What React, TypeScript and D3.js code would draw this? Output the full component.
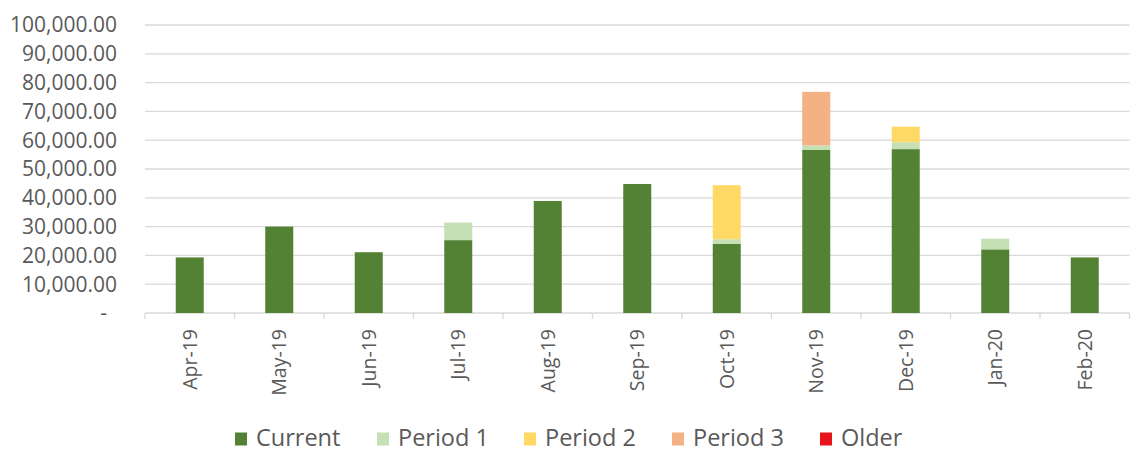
import React from "react";
import * as d3 from "d3";

const categories = ["Apr-19","May-19","Jun-19","Jul-19","Aug-19","Sep-19","Oct-19","Nov-19","Dec-19","Jan-20","Feb-20"];
const current = [19300, 30000, 21100, 25300, 38900, 44800, 24000, 56600, 56900, 22100, 19300];
const period1 = [0, 0, 0, 6100, 0, 0, 1600, 1600, 2400, 3700, 0];
const period2 = [0, 0, 0, 0, 0, 0, 18800, 0, 5400, 0, 0];
const period3 = [0, 0, 0, 0, 0, 0, 0, 18600, 0, 0, 0];
const older = [0, 0, 0, 0, 0, 0, 0, 0, 0, 0, 0];
const seriesNames = ["Current", "Period 1", "Period 2", "Period 3", "Older"];
const seriesColors = ["#548235", "#C5E0B4", "#FFD966", "#F4B183", "#E8141C"];
const yTicks = [0, 10000, 20000, 30000, 40000, 50000, 60000, 70000, 80000, 90000, 100000];

const W = 1141, H = 453;
const FONT = "'Open Sans', sans-serif";
const TEXT = "#595959";
const GRID = "#D9D9D9";

export default function App() {
  const seriesValues = [current, period1, period2, period3, older];
  const rows = categories.map((c, i) => {
    const r: any = { cat: c };
    seriesNames.forEach((s, k) => (r[s] = seriesValues[k][i]));
    return r;
  });
  const stacked = d3.stack().keys(seriesNames)(rows);

  const x = d3.scaleBand().domain(categories).range([145, 1129.5]).paddingInner(0.687).paddingOuter(0.3435);
  const y = d3.scaleLinear().domain([0, 100000]).range([313, 25]);
  const fmt = d3.format(",.2f");
  const step = x.step();

  const legendX = [235, 377, 524, 672, 820];

  return (
    <svg width={W} height={H} style={{ position: "absolute", left: 0, top: 0, background: "#fff" }} fontFamily={FONT}>
      {yTicks.filter((t) => t > 0).map((t) => (
        <line key={t} x1={145} x2={1129.5} y1={y(t)} y2={y(t)} stroke={GRID} strokeWidth={1.3} />
      ))}
      {yTicks.map((t) => (
        <text key={"l" + t} x={t === 0 ? 107 : 117} y={y(t)} dy="0.35em" textAnchor="end" fontSize={21} fill={TEXT}>
          {t === 0 ? "-" : fmt(t)}
        </text>
      ))}
      <line x1={145} x2={1129.5} y1={y(0)} y2={y(0)} stroke={GRID} strokeWidth={1.3} />
      {d3.range(categories.length + 1).map((i) => (
        <line key={"tk" + i} x1={145 + i * step} x2={145 + i * step} y1={y(0)} y2={y(0) + 6} stroke={GRID} strokeWidth={1.3} />
      ))}
      {stacked.map((s, k) => (
        <g key={s.key} fill={seriesColors[k]}>
          {s.map((d, i) => (d[1] - d[0] > 0 ? (
            <rect key={i} x={x(categories[i])} width={x.bandwidth()} y={y(d[1])} height={y(d[0]) - y(d[1])} />
          ) : null))}
        </g>
      ))}
      {categories.map((c) => {
        const cx = (x(c) as number) + x.bandwidth() / 2;
        return (
          <text key={"x" + c} transform={`translate(${cx},${329}) rotate(-90)`} textAnchor="end" dy="0.35em" fontSize={19.5} fill={TEXT}>
            {c}
          </text>
        );
      })}
      {seriesNames.map((s, k) => (
        <g key={"lg" + s} transform={`translate(${legendX[k]},0)`}>
          <rect x={0} y={432.5} width={12} height={13} fill={seriesColors[k]} />
          <text x={21} y={446} fontSize={23.5} fill={TEXT}>{s}</text>
        </g>
      ))}
    </svg>
  );
}
